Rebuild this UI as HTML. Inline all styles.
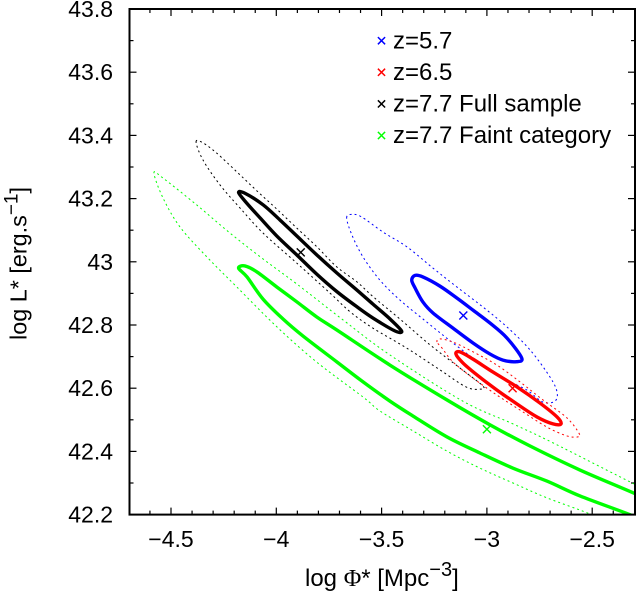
<!DOCTYPE html>
<html>
<head>
<meta charset="utf-8">
<title>Confidence contours of log L* versus log Phi*</title>
<style>
html,body{margin:0;padding:0;background:#fff;}
svg{display:block;}
text{font-family:"Liberation Sans",sans-serif;fill:#000;}
</style>
</head>
<body>
<svg id="chart" xmlns="http://www.w3.org/2000/svg" width="636" height="591" viewBox="0 0 636 591">
  <defs>
    <clipPath id="plot-clip"><rect x="129.5" y="9" width="506" height="505.6"></rect></clipPath>
  </defs>
  <g id="ticks"></g>
  <g id="tick-labels"></g>
  <g id="series" clip-path="url(#plot-clip)"></g>
  <rect x="129.5" y="9" width="505.5" height="505.6" fill="none" stroke="#000" stroke-width="2"></rect>
  <g id="legend"></g>
  <text x="305" y="586" font-size="24">log <tspan font-family="Liberation Serif">Φ</tspan>* [Mpc<tspan dy="-10" font-size="20">−3</tspan><tspan dy="10">]</tspan></text>
  <text transform="translate(26.5,340) rotate(-90)" font-size="23.4">log L* [erg.s<tspan dy="-9" font-size="19">−1</tspan><tspan dy="9">]</tspan></text>
</svg>
<script>
var xTicks = [-4.5, -4, -3.5, -3, -2.5];
var xTickLabels = ["−4.5", "−4", "−3.5", "−3", "−2.5"];
var xMinorTicks = [-4.6, -4.4, -4.3, -4.2, -4.1, -3.9, -3.8, -3.7, -3.6, -3.4, -3.3, -3.2, -3.1, -2.9, -2.8, -2.7, -2.6, -2.4];
var yTicks = [43.8, 43.6, 43.4, 43.2, 43, 42.8, 42.6, 42.4, 42.2];
var yTickLabels = ["43.8", "43.6", "43.4", "43.2", "43", "42.8", "42.6", "42.4", "42.2"];
var yMinorTicks = [43.7, 43.5, 43.3, 43.1, 42.9, 42.7, 42.5, 42.3];

var legendLabels = ["z=5.7", "z=6.5", "z=7.7 Full sample", "z=7.7 Faint category"];
var seriesColors = ["#0000ff", "#ff0000", "#000000", "#00ff00"];

var bestPhi = [-3.112, -2.878, -3.884, -3.0];
var bestL = [42.83, 42.60, 43.03, 42.47];

var blueInnerPhi = [-3.357,-3.341,-3.304,-3.223,-3.142,-3.066,-2.985,-2.905,-2.835,-2.859,-2.924,-2.985,-3.066,-3.161,-3.256,-3.304,-3.341];
var blueInnerL = [42.942,42.957,42.952,42.923,42.885,42.847,42.806,42.759,42.696,42.684,42.689,42.708,42.743,42.790,42.838,42.873,42.917];
var blueOuterPhi = [-3.666,-3.642,-3.595,-3.493,-3.379,-3.256,-3.142,-3.019,-2.905,-2.795,-2.700,-2.667,-2.677,-2.734,-2.810,-2.905,-3.033,-3.161,-3.285,-3.413,-3.508,-3.588,-3.641];
var blueOuterL = [43.139,43.150,43.142,43.094,43.047,42.980,42.920,42.857,42.794,42.721,42.635,42.588,42.559,42.556,42.594,42.626,42.680,42.743,42.809,42.879,42.942,43.015,43.085];

var redInnerPhi = [-3.147,-3.128,-3.066,-2.971,-2.857,-2.748,-2.667,-2.648,-2.686,-2.762,-2.857,-2.952,-3.047,-3.114];
var redInnerL = [42.708,42.715,42.692,42.651,42.604,42.553,42.509,42.487,42.487,42.509,42.550,42.594,42.642,42.680];
var redOuterPhi = [-3.237,-3.223,-3.161,-3.066,-2.952,-2.843,-2.734,-2.620,-2.563,-2.568,-2.620,-2.715,-2.843,-2.952,-3.066,-3.161,-3.213];
var redOuterL = [42.746,42.756,42.746,42.715,42.673,42.620,42.563,42.506,42.458,42.446,42.449,42.477,42.531,42.578,42.632,42.683,42.727];

var blackInnerPhi = [-4.179,-4.149,-4.062,-3.982,-3.903,-3.808,-3.713,-3.618,-3.541,-3.460,-3.405,-3.436,-3.541,-3.618,-3.713,-3.808,-3.903,-3.998,-4.077,-4.141];
var blackInnerL = [43.219,43.217,43.180,43.132,43.082,43.022,42.965,42.911,42.866,42.819,42.781,42.781,42.822,42.858,42.906,42.961,43.022,43.082,43.139,43.186];
var blackOuterPhi = [-4.381,-4.347,-4.283,-4.188,-4.093,-3.998,-3.903,-3.808,-3.713,-3.618,-3.541,-3.413,-3.270,-3.128,-3.019,-3.033,-3.099,-3.223,-3.381,-3.541,-3.650,-3.745,-3.903,-4.063,-4.172,-4.267,-4.348];
var blackOuterL = [43.380,43.376,43.344,43.285,43.225,43.167,43.107,43.048,42.984,42.937,42.890,42.819,42.737,42.664,42.607,42.597,42.604,42.658,42.727,42.790,42.842,42.901,42.996,43.091,43.170,43.243,43.322];

// Green contours run off the plot; their loops close through values beyond the axis limits.
var greenInnerPhi = [-4.179,-4.149,-4.092,-3.997,-3.902,-3.807,-3.712,-3.460,-3.190,-2.985,-2.795,-2.558,-2.292,-2.178,-2.178,-2.273,-2.330,-2.558,-2.715,-2.876,-3.033,-3.190,-3.351,-3.460,-3.588,-3.712,-3.873,-3.968,-4.063,-4.139];
var greenInnerL = [42.980,42.987,42.968,42.920,42.873,42.825,42.784,42.673,42.563,42.484,42.417,42.341,42.265,42.227,42.120,42.183,42.202,42.259,42.306,42.347,42.395,42.446,42.512,42.559,42.620,42.683,42.765,42.819,42.882,42.952];
var greenOuterPhi = [-4.581,-4.538,-4.378,-4.220,-4.063,-3.903,-3.683,-3.460,-3.114,-2.876,-2.686,-2.292,-2.178,-2.178,-2.416,-2.511,-2.715,-2.876,-3.033,-3.190,-3.351,-3.508,-3.588,-3.807,-3.997,-4.187,-4.329,-4.457,-4.538];
var greenOuterL = [43.281,43.265,43.180,43.091,43.009,42.930,42.816,42.705,42.559,42.487,42.427,42.294,42.259,42.120,42.167,42.202,42.253,42.300,42.347,42.401,42.465,42.528,42.572,42.682,42.794,42.920,43.015,43.110,43.202];

var SVG_NS = "http://www.w3.org/2000/svg";
function xScale(v) { return 171 + (v + 4.5) * 210.6; }
function yScale(v) { return 9 + (43.8 - v) * 316; }

function make(tag, attrs, parent) {
  var el = document.createElementNS(SVG_NS, tag);
  for (var k in attrs) { el.setAttribute(k, attrs[k]); }
  parent.appendChild(el);
  return el;
}

// Smooth closed curve through the contour samples.
function contourPath(phi, lum) {
  var pts = phi.map(function (p, i) { return [xScale(p), yScale(lum[i])]; });
  var n = pts.length;
  function at(i) { return pts[(i + n) % n]; }
  var d = "M" + pts[0][0].toFixed(2) + " " + pts[0][1].toFixed(2);
  for (var i = 0; i < n; i++) {
    var p0 = at(i - 1), p1 = at(i), p2 = at(i + 1), p3 = at(i + 2);
    d += "C" + (p1[0] + (p2[0] - p0[0]) / 6).toFixed(2) + " " + (p1[1] + (p2[1] - p0[1]) / 6).toFixed(2) +
         " " + (p2[0] - (p3[0] - p1[0]) / 6).toFixed(2) + " " + (p2[1] - (p3[1] - p1[1]) / 6).toFixed(2) +
         " " + p2[0].toFixed(2) + " " + p2[1].toFixed(2);
  }
  return d + "Z";
}

var seriesGroup = document.getElementById("series");
function drawContour(name, phi, lum, color, solid) {
  var el = make("path", {
    d: contourPath(phi, lum),
    fill: "none",
    stroke: color,
    "stroke-width": solid ? 3.4 : 1,
    "stroke-dasharray": solid ? "none" : "2 3",
    "stroke-linejoin": "round"
  }, seriesGroup);
  
  
}

drawContour("blue-outer-contour", blueOuterPhi, blueOuterL, seriesColors[0], false);
drawContour("black-outer-contour", blackOuterPhi, blackOuterL, seriesColors[2], false);
drawContour("red-outer-contour", redOuterPhi, redOuterL, seriesColors[1], false);
drawContour("green-outer-contour", greenOuterPhi, greenOuterL, seriesColors[3], false);
drawContour("green-inner-contour", greenInnerPhi, greenInnerL, seriesColors[3], true);
drawContour("black-inner-contour", blackInnerPhi, blackInnerL, seriesColors[2], true);
drawContour("blue-inner-contour", blueInnerPhi, blueInnerL, seriesColors[0], true);
drawContour("red-inner-contour", redInnerPhi, redInnerL, seriesColors[1], true);

function crossPath(cx, cy, r) {
  return "M" + (cx - r) + " " + (cy - r) + "L" + (cx + r) + " " + (cy + r) +
         "M" + (cx - r) + " " + (cy + r) + "L" + (cx + r) + " " + (cy - r);
}

bestPhi.forEach(function (p, i) {
  var mark = make("path", {
    d: crossPath(xScale(p), yScale(bestL[i]), 4),
    fill: "none",
    stroke: seriesColors[i],
    "stroke-width": 1.4
  }, seriesGroup);
  
  
});

var tickGroup = document.getElementById("ticks");
var labelGroup = document.getElementById("tick-labels");
function tickLine(x1, y1, x2, y2) {
  var line = make("line", { x1: x1, y1: y1, x2: x2, y2: y2, stroke: "#000", "stroke-width": 1.2 }, tickGroup);
  
  
}
function xTick(v, len) {
  tickLine(xScale(v), 514.6, xScale(v), 514.6 - len);
  tickLine(xScale(v), 9, xScale(v), 9 + len);
}
function yTick(v, len) {
  tickLine(129.5, yScale(v), 129.5 + len, yScale(v));
  tickLine(635, yScale(v), 635 - len, yScale(v));
}
xTicks.forEach(function (v) { xTick(v, 7); });
xMinorTicks.forEach(function (v) { xTick(v, 4); });
yTicks.forEach(function (v) { yTick(v, 7); });
yMinorTicks.forEach(function (v) { yTick(v, 4); });

xTicks.forEach(function (v, i) {
  var t = make("text", { x: xScale(v), y: 547, "text-anchor": "middle", "font-size": 23 }, labelGroup);
  
  
  t.textContent = xTickLabels[i];
});
yTicks.forEach(function (v, i) {
  var t = make("text", { x: 113, y: yScale(v) + 8, "text-anchor": "end", "font-size": 23 }, labelGroup);
  
  
  t.textContent = yTickLabels[i];
});

var legendGroup = document.getElementById("legend");
legendLabels.forEach(function (label, i) {
  var rowY = 40.7 + i * 31.6;
  var mark = make("path", { d: crossPath(381.5, rowY, 3.6), fill: "none", stroke: seriesColors[i], "stroke-width": 1.5 }, legendGroup);
  
  
  var t = make("text", { x: 393, y: rowY + 7.6, "font-size": 24 }, legendGroup);
  
  
  t.textContent = label;
});
</script>
</body>
</html>
